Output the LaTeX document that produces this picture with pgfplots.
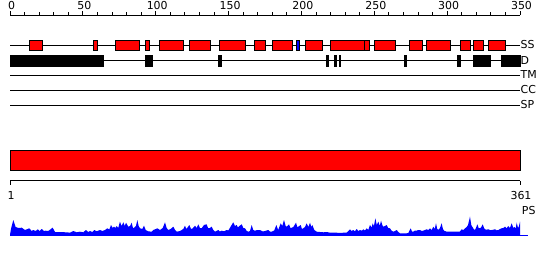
\documentclass[border=0pt]{standalone}
\usepackage{fontspec}
\setmainfont{DejaVu Sans}
\usepackage{pgfplots}
\usepackage{pgfplotstable}
\pgfplotsset{compat=1.18}

% PS profile: residue position r, score height h
\pgfplotstableread{
r h
1.0 0
1.7 6
3.3 15
5.0 8
6.9 7
9.3 7.3
11.6 5
14.6 6.7
16.3 4
17.4 5
19.1 4
20.6 5.7
22.0 4
23.4 6
25.0 4
26.2 4.3
28.0 4
31.1 7.3
32.8 3
41.0 2.7
43.4 2.3
45.7 4
48.1 2.7
50.4 3.3
52.7 2.7
54.6 5
56.3 3
57.5 4
59.1 3
60.5 5
62.2 3.7
64.5 5
66.2 4
68.1 5
69.7 6.7
71.1 5.5
72.3 10
73.5 7
74.4 8.3
75.3 7
76.3 9
77.4 7
78.6 13.3
79.8 9
81.0 12.7
82.0 9
82.9 12.3
84.5 8.3
85.7 9
86.9 12.3
87.8 7
88.7 7.3
89.9 9
90.9 15
91.8 9
92.8 6.7
94.4 6
95.6 9.3
96.8 5
98.6 3.7
101.0 3.3
102.2 5
103.4 5.7
105.0 6.7
106.9 5
108.8 7
110.4 12.7
111.6 7
112.7 5
114.4 6
116.3 8.3
117.5 5
118.7 3.3
121.0 4
122.2 5
123.3 6
124.5 9.3
125.5 6
126.2 7.3
127.6 10
128.8 6
130.0 6.7
131.6 9.3
132.8 7
133.9 10.7
135.1 7
136.3 6.7
137.9 10
139.8 10.7
140.8 7
141.7 6.7
143.4 8.3
144.5 5
145.7 3.3
148.0 5
149.2 3.5
150.4 4.3
152.1 3.7
154.0 5
155.1 4.5
156.3 7.3
158.6 12.7
159.8 9
161.0 10
161.9 7.5
162.9 9
164.6 10.7
165.7 7
166.9 6.7
168.1 4
169.2 3.3
170.4 4
171.6 10
172.7 5
173.9 4.3
175.6 5
177.5 5
179.4 3.5
181.0 4
183.3 5
184.5 3.5
185.7 3.3
187.5 4.5
189.0 10
190.3 5
192.1 11.7
193.2 9
194.4 15
195.6 9
196.3 8.3
198.0 10.7
198.9 7
199.9 7.3
201.0 8
202.9 12.3
203.8 8
204.5 8.3
206.2 10
207.1 6
208.0 6.7
209.2 8
210.4 11.7
211.6 8
212.8 12.3
213.7 8
214.4 10
215.8 5
217.5 3.3
219.8 3
222.2 2.7
224.5 3
226.9 2.3
229.2 2.5
231.6 2.3
233.9 2
236.3 2.3
238.7 2.5
239.8 4
241.0 5.7
242.2 4
243.3 5
244.5 3.7
245.7 6
246.9 4
248.1 5
249.3 4.3
250.4 5.7
251.6 4.5
252.8 6.7
253.9 5
255.1 10
256.3 7.5
257.0 11.7
257.9 9
258.9 16.7
259.9 10
261.0 13.3
262.0 9
262.9 14.3
263.8 10
264.5 8.3
265.7 9
266.9 10
268.0 7
269.2 6.7
270.4 4.3
271.6 3.3
272.8 4
274.0 5
275.1 3
276.3 1.7
278.6 1.7
281.0 1.7
282.2 2
283.8 6.7
284.8 3.5
285.7 3.3
286.9 4.5
288.1 4.3
289.2 5
290.4 5
291.6 4
292.7 4.3
293.9 5
295.1 5.7
296.3 5
297.5 6.7
298.7 5
299.8 8.3
300.8 6
301.7 11.7
302.6 6
303.3 5
304.5 7
305.7 11.7
306.6 6
307.4 4.3
309.3 3.3
311.6 3.3
313.9 3.5
316.3 3.3
318.6 3.5
319.8 5.7
321.0 5
322.2 6.7
323.4 8
324.3 10
325.7 18.3
326.6 10
327.3 8.3
328.3 6
329.2 5
329.9 7
330.9 10.7
331.8 7
332.8 6.7
333.7 8
334.7 10.7
335.6 7
336.3 5.7
337.5 5.3
338.6 5.7
339.8 5
341.0 5
342.2 5.3
343.4 5.7
344.6 4.7
345.7 5
346.9 6
348.1 6.7
349.2 7
350.4 8.3
351.6 6.7
352.7 9
353.9 7
355.1 11.7
356.3 7
357.0 8
358.0 6.7
358.7 12.3
359.6 7
360.3 9
361.0 13.3
361.0 0
}\profile

\newcommand{\ssbox}[3][red]{\addplot[fill=#1, draw=black, line width=1bp] coordinates {(#2,-40) (#3,-40) (#3,-50.7) (#2,-50.7)} -- cycle;}
\newcommand{\dbox}[2]{\addplot[fill=black, draw=black, line width=1bp] coordinates {(#1,-55) (#2,-55) (#2,-66) (#1,-66)} -- cycle;}

\begin{document}
\begin{tikzpicture}[font=\fontsize{11}{12}\selectfont]
% main track area (hidden axis)
\begin{axis}[
  name=main, at={(0,0)}, anchor=origin,
  scale only axis, width=510bp, height=245bp,
  xmin=0, xmax=350, ymin=-260, ymax=-15,
  hide axis,
  every axis plot/.append style={mark=none},
  clip=false,
]
\path (axis cs:-6.863,0) rectangle (axis cs:370.59,-260);
% track lines
\addplot[black, line width=1bp] coordinates {(0,-45) (350,-45)};
\addplot[black, line width=1bp] coordinates {(0,-60.5) (350,-60.5)};
\addplot[black, line width=1bp] coordinates {(0,-75) (350,-75)};
\addplot[black, line width=1bp] coordinates {(0,-90) (350,-90)};
\addplot[black, line width=1bp] coordinates {(0,-105) (350,-105)};
% SS
\ssbox{13.3}{22.4}
\ssbox{57.2}{60.2}
\ssbox{72.3}{88.7}
\ssbox{92.9}{95.9}
\ssbox{102.5}{119}
\ssbox{123}{137.5}
\ssbox{143.7}{161.8}
\ssbox{167.7}{175.5}
\ssbox{180.3}{194}
\ssbox[blue]{196.8}{199}
\ssbox{202.7}{214.4}
\ssbox{219.8}{243}
\ssbox{243}{247}
\ssbox{250}{264.5}
\ssbox{274}{283}
\ssbox{285.7}{302.2}
\ssbox{309}{315.9}
\ssbox{318}{325}
\ssbox{328.3}{340}
% D
\dbox{0}{64.5}
\dbox{92.9}{97.9}
\dbox{143.4}{145.3}
\dbox{217.1}{218.3}
\dbox{222.6}{224}
\dbox{225.8}{227}
\dbox{270.6}{272.3}
\dbox{307}{309.3}
\dbox{317.8}{329.9}
\dbox{337}{350}
% track names
\node[anchor=west, inner sep=0.5bp] at (axis cs:350,-45) {SS};
\node[anchor=west, inner sep=0.5bp] at (axis cs:350,-60.5) {D};
\node[anchor=west, inner sep=0.5bp] at (axis cs:350,-75) {TM};
\node[anchor=west, inner sep=0.5bp] at (axis cs:350,-90) {CC};
\node[anchor=west, inner sep=0.5bp] at (axis cs:350,-105) {SP};
\coordinate (r1) at (axis cs:0,-15);
\coordinate (r2) at (axis cs:0,-180.7);
\end{axis}

% top ruler (positions 0..350)
\begin{axis}[
  at={(r1)}, anchor=south west,
  scale only axis, width=510bp, height=4bp,
  xmin=0, xmax=350, ymin=0, ymax=4,
  axis x line*=bottom, axis y line=none,
  xtick pos=left,
  axis line style={-, line width=1bp, black},
  xtick={0,50,...,350}, minor x tick num=4,
  tick align=inside, major tick length=4bp, minor tick length=3bp,
  tick style={line width=1bp, black},
  xticklabel style={anchor=south, inner sep=0pt, yshift=5bp, xshift=1.5bp},
  /pgf/number format/assume math mode=true,
  clip=false,
]
\addplot[draw=none, mark=none] coordinates {(0,0) (350,0)};
\end{axis}

% lower part (residues 1..361)
\begin{axis}[
  at={(r2)}, anchor=south west,
  scale only axis, width=510bp, height=40.7bp,
  xmin=1, xmax=361, ymin=-180.7, ymax=-140,
  axis x line*=bottom, axis y line=none,
  xtick pos=left, xticklabel pos=left,
  axis line style={-, line width=1bp, black},
  xtick={1,361}, tick align=outside, major tick length=4bp,
  tick style={line width=1bp, black},
  xticklabel style={anchor=north, inner sep=0pt, yshift=-6.5bp, xshift=1bp},
  /pgf/number format/assume math mode=true,
  every axis plot/.append style={mark=none},
  clip=false,
]
\addplot[fill=red, draw=black, line width=1bp] coordinates {(1,-150) (361,-150) (361,-170.7) (1,-170.7)} -- cycle;
\addplot[fill=blue, draw=none] table[x=r, y expr=\thisrow{h}-235] {\profile};
\addplot[blue, line width=1bp] coordinates {(1,-235) (366.4,-235)};
\node[anchor=west, inner sep=0pt] at (axis cs:362.2,-211) {PS};
\end{axis}
\end{tikzpicture}
\end{document}
